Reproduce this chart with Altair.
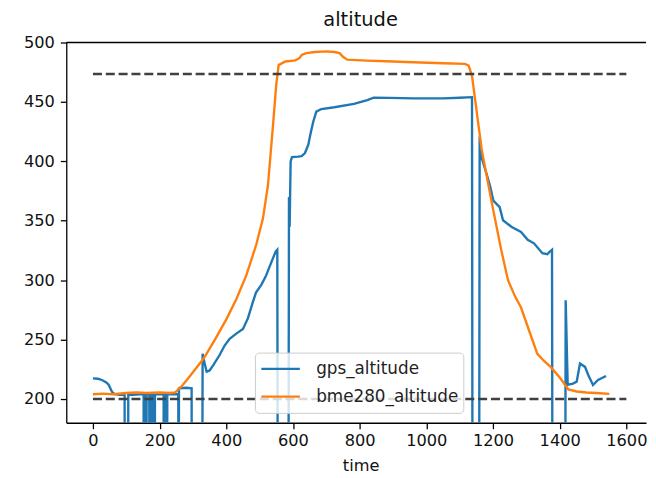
import altair as alt
import pandas as pd

# ---- data ----
gps_time = [0, 15, 27, 40, 47, 57, 65, 80, 95, 96, 105, 106, 120, 140, 152, 153, 154, 159, 160, 161,
            169, 170, 171, 176, 177, 178, 184, 185, 186, 200, 212, 213, 214, 221, 222, 223, 240, 256,
            257, 258, 280, 296, 297, 327, 329, 335, 341, 350, 361, 380, 395, 410, 430, 450, 465, 478,
            489, 505, 518, 535, 548, 553, 555, 586, 588, 590, 593, 597, 615, 626, 636, 646, 654, 661,
            670, 685, 724, 783, 823, 842, 891, 960, 1050, 1100, 1137, 1139, 1158, 1160, 1166, 1180,
            1191, 1201, 1220, 1230, 1255, 1284, 1304, 1323, 1348, 1363, 1368, 1377, 1379, 1416, 1418,
            1424, 1440, 1451, 1461, 1476, 1486, 1500, 1515, 1539]
gps_alt = [217.4, 217, 216, 214, 212, 206, 204, 203.5, 203.5, 0, 0, 203.5, 203.5, 204, 204, 0, 204, 204, 0, 204,
           204, 0, 204, 204, 0, 204, 204, 0, 204, 204, 204, 0, 204, 204, 0, 204, 204, 204,
           0, 209, 209.5, 209, 0, 0, 238, 230, 223, 224, 228.5, 237, 245, 250.6, 255, 259, 268, 280,
           289.5, 296, 303, 315, 324, 325.5, 0, 0, 370, 345, 400, 403.6, 404, 404.4, 407, 414, 425, 433.5,
           441.8, 444, 445.5, 448.3, 451.5, 453.5, 453.4, 453, 453, 453.5, 454, 0, 0, 421, 403, 390,
           379.5, 367, 361.4, 350.4, 345, 340.6, 334, 331, 322.7, 321.8, 323.3, 325.5, 0, 0, 283,
           212, 213, 214.6, 229.8, 227, 220, 211.8, 216, 219.3]

bme_time = [0, 30, 60, 100, 130, 160, 200, 230, 247, 270, 290, 332, 366, 400, 430, 460, 490, 510, 525,
            540, 550, 557, 577, 607, 620, 626, 640, 666, 700, 724, 740, 750, 763, 822, 900, 960, 1050,
            1116, 1127, 1137, 1166, 1200, 1225, 1245, 1265, 1284, 1314, 1333, 1353, 1373, 1402, 1426,
            1451, 1480, 1510, 1549]
bme_alt = [204, 204.5, 204, 205, 205.5, 205, 205.5, 205, 205.5, 212, 219, 234, 250, 267, 284, 304, 330, 352, 380,
           430, 465, 481, 484, 485, 487, 489.5, 491, 492, 492.5, 492, 491, 488, 485.6, 484.8, 484, 483.4, 482.5,
           482, 480.6, 472, 410, 360, 325, 300, 287, 277, 253, 238, 232, 227, 217.4, 208,
           206.3, 205.5, 205, 204.3]

ref_levels = [473.5, 200]
ref_start = [0, 0]
ref_end = [1600, 1600]

series_names = ["gps_altitude", "bme280_altitude"]
series_colors = ["#1f77b4", "#ff7f0e"]
x_ticks = [0, 200, 400, 600, 800, 1000, 1200, 1400, 1600]
y_ticks = [200, 250, 300, 350, 400, 450, 500]

gps_df = pd.DataFrame({"time": gps_time, "alt": gps_alt, "series": series_names[0]})
bme_df = pd.DataFrame({"time": bme_time, "alt": bme_alt, "series": series_names[1]})
ref_df = pd.DataFrame({"time": ref_start, "time_end": ref_end, "alt": ref_levels})
top_df = pd.DataFrame({"alt": [500]})

W, H = 587, 385
FONT = "DejaVu Sans"
TXT = "#111111"

xscale = alt.Scale(domain=[-80, 1659], nice=False, zero=False)
yscale = alt.Scale(domain=[180, 500], nice=False, zero=False)

xaxis = alt.Axis(values=x_ticks, format="d", title="time", grid=False, tickSize=6, labelPadding=4,
                 titlePadding=9, titleX=298, labelFlush=False,
                 labelFont=FONT, labelFontSize=16.4, labelColor=TXT,
                 titleFont=FONT, titleFontSize=16.4, titleFontWeight="normal", titleColor=TXT,
                 domainColor="black", domainWidth=1.3, tickColor="black", tickWidth=1.3)
yaxis = alt.Axis(values=y_ticks, format="d", title=None, grid=False, tickSize=6, labelPadding=6,
                 labelFont=FONT, labelFontSize=16.4, labelColor=TXT,
                 domainColor="black", domainWidth=1.3, tickColor="black", tickWidth=1.3)

color = alt.Color(
    "series:N",
    scale=alt.Scale(domain=series_names, range=series_colors),
    legend=alt.Legend(
        title=None, orient="none", legendX=191, legendY=314, direction="vertical",
        symbolType="stroke", symbolSize=1521, symbolStrokeWidth=2.4,
        labelFontSize=17, labelFont=FONT, labelColor="#222222", labelOffset=15,
        fillColor="rgba(255,255,255,0.8)", strokeColor="#cccccc", cornerRadius=4,
        padding=5, clipHeight=23, rowPadding=5, labelLimit=300, zindex=2,
    ),
)

gps_layer = alt.Chart(gps_df).mark_line(clip=True, strokeWidth=2.4).encode(
    x=alt.X("time:Q", scale=xscale, axis=xaxis),
    y=alt.Y("alt:Q", scale=yscale, axis=yaxis),
    color=color,
)
bme_layer = alt.Chart(bme_df).mark_line(clip=True, strokeWidth=2.4).encode(
    x=alt.X("time:Q", scale=xscale, axis=xaxis),
    y=alt.Y("alt:Q", scale=yscale, axis=yaxis),
    color=color,
)
ref_layer = alt.Chart(ref_df).mark_rule(strokeDash=[9.1, 3.9], strokeWidth=2.4, color="#404040").encode(
    x=alt.X("time:Q", scale=xscale, axis=xaxis),
    x2="time_end:Q",
    y=alt.Y("alt:Q", scale=yscale, axis=yaxis),
)
top_spine = alt.Chart(top_df).mark_rule(color="black", strokeWidth=1.3).encode(
    y=alt.Y("alt:Q", scale=yscale, axis=yaxis),
    x=alt.value(0),
    x2=alt.value(W),
)

chart = (
    alt.layer(gps_layer, bme_layer, ref_layer, top_spine)
    .properties(
        width=W, height=H,
        autosize=alt.AutoSizeParams(type="none"),
        padding={"left": 59, "top": 32, "right": 2, "bottom": 53},
        title=alt.TitleParams("altitude", font=FONT, fontSize=19.7, fontWeight="normal",
                              color=TXT, anchor="middle", dx=4.5, offset=5),
    )
    .configure(background="white")
    .configure_view(stroke=None)
)

chart.save("out.html", embed_options={"renderer": "svg", "actions": False})
